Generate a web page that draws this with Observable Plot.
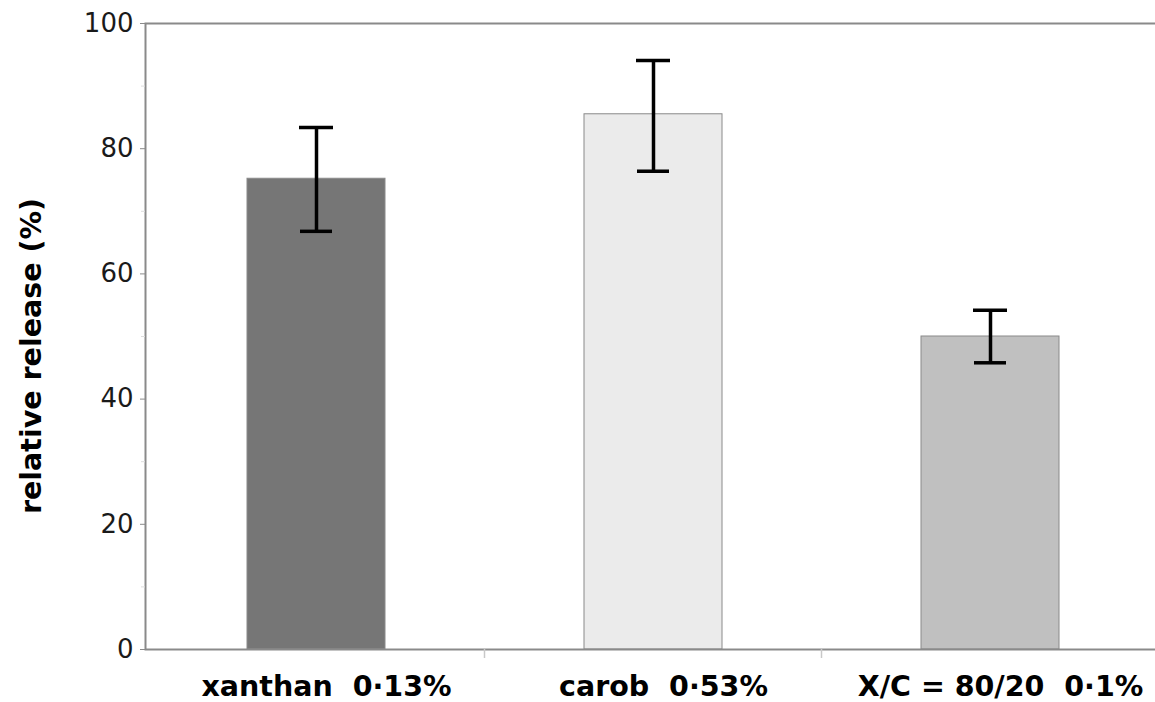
<!DOCTYPE html>
<html><head><meta charset="utf-8">
<script src="https://cdn.jsdelivr.net/npm/d3@7"></script>
<script src="https://cdn.jsdelivr.net/npm/@observablehq/plot@0.6"></script>
<style>
html,body{margin:0;padding:0;background:#fff;overflow:hidden;}
#chart svg{max-width:none !important;display:block;}
#chart svg text{white-space:pre;}
</style></head><body><div id="chart"></div>
<script>
const categories = ["xanthan  0·13%", "carob  0·53%", "X/C = 80/20  0·1%"];
const releaseMean = [75.2, 85.5, 50.0];
const errorLow = [66.8, 76.4, 45.8];
const errorHigh = [83.4, 94.1, 54.2];
const barColors = ["#767676", "#ebebeb", "#c0c0c0"];
const majorTicks = [0, 20, 40, 60, 80, 100];
const minorTicks = [10, 30, 50, 70, 90];
const yLabel = "relative release (%)";

const rows = categories.map((c, i) => ({category: c, value: releaseMean[i], lo: errorLow[i], hi: errorHigh[i], color: barColors[i]}));

function boundaryTicks(index, scales) {
  const g = d3.create("svg:g");
  try {
    const x = scales.x;
    const step = x.step(), bw = x.bandwidth();
    const y0 = scales.y(0);
    categories.slice(1).forEach(c => {
      const bx = x(c) - (step - bw) / 2;
      g.append("line").attr("x1", bx).attr("x2", bx).attr("y1", y0).attr("y2", y0 + 9)
        .attr("stroke", "#c8c8c8").attr("stroke-width", 1.5);
    });
  } catch (e) {}
  return g.node();
}

const chart = Plot.plot({
  width: 1165,
  height: 702,
  marginLeft: 145,
  marginRight: 4,
  marginTop: 23,
  marginBottom: 53,
  style: {fontFamily: "'DejaVu Sans', sans-serif", color: "#1a1a1a", background: "#fff", maxWidth: "none"},
  x: {domain: categories, paddingInner: 0.59, paddingOuter: 0.3, label: null},
  y: {domain: [0, 100], label: null},
  color: {type: "identity"},
  marks: [
    Plot.barY(rows, {x: "category", y: "value", fill: "color", stroke: "#8a8a8a", strokeWidth: 1}),
    Plot.ruleX(rows, {x: "category", y1: "lo", y2: "hi", stroke: "#000", strokeWidth: 3.5}),
    Plot.tickY(rows, {x: "category", y: "hi", stroke: "#000", strokeWidth: 3.5, insetLeft: 52, insetRight: 52}),
    Plot.tickY(rows, {x: "category", y: "lo", stroke: "#000", strokeWidth: 3.5, insetLeft: 53, insetRight: 53}),
    Plot.frame({stroke: "#8a8a8a", strokeWidth: 2}),
    Plot.axisY(minorTicks, {tickSize: 4, stroke: "#dddddd", text: null, label: null}),
    Plot.axisY(majorTicks, {tickSize: 5, tickPadding: 7, stroke: "#8a8a8a", fontSize: 26, label: null}),
    Plot.axisX({tickSize: 0, tickPadding: 26, dx: 10, fontSize: 28.5, fontWeight: "bold", fill: "#000", label: null}),
    boundaryTicks,
    Plot.text([yLabel], {text: d => d, frameAnchor: "left", textAnchor: "middle", rotate: -90, dx: -114, dy: 19.5, fontSize: 28.5, fontWeight: "bold", fill: "#000"})
  ]
});
document.getElementById("chart").appendChild(chart);
</script>
</body></html>
